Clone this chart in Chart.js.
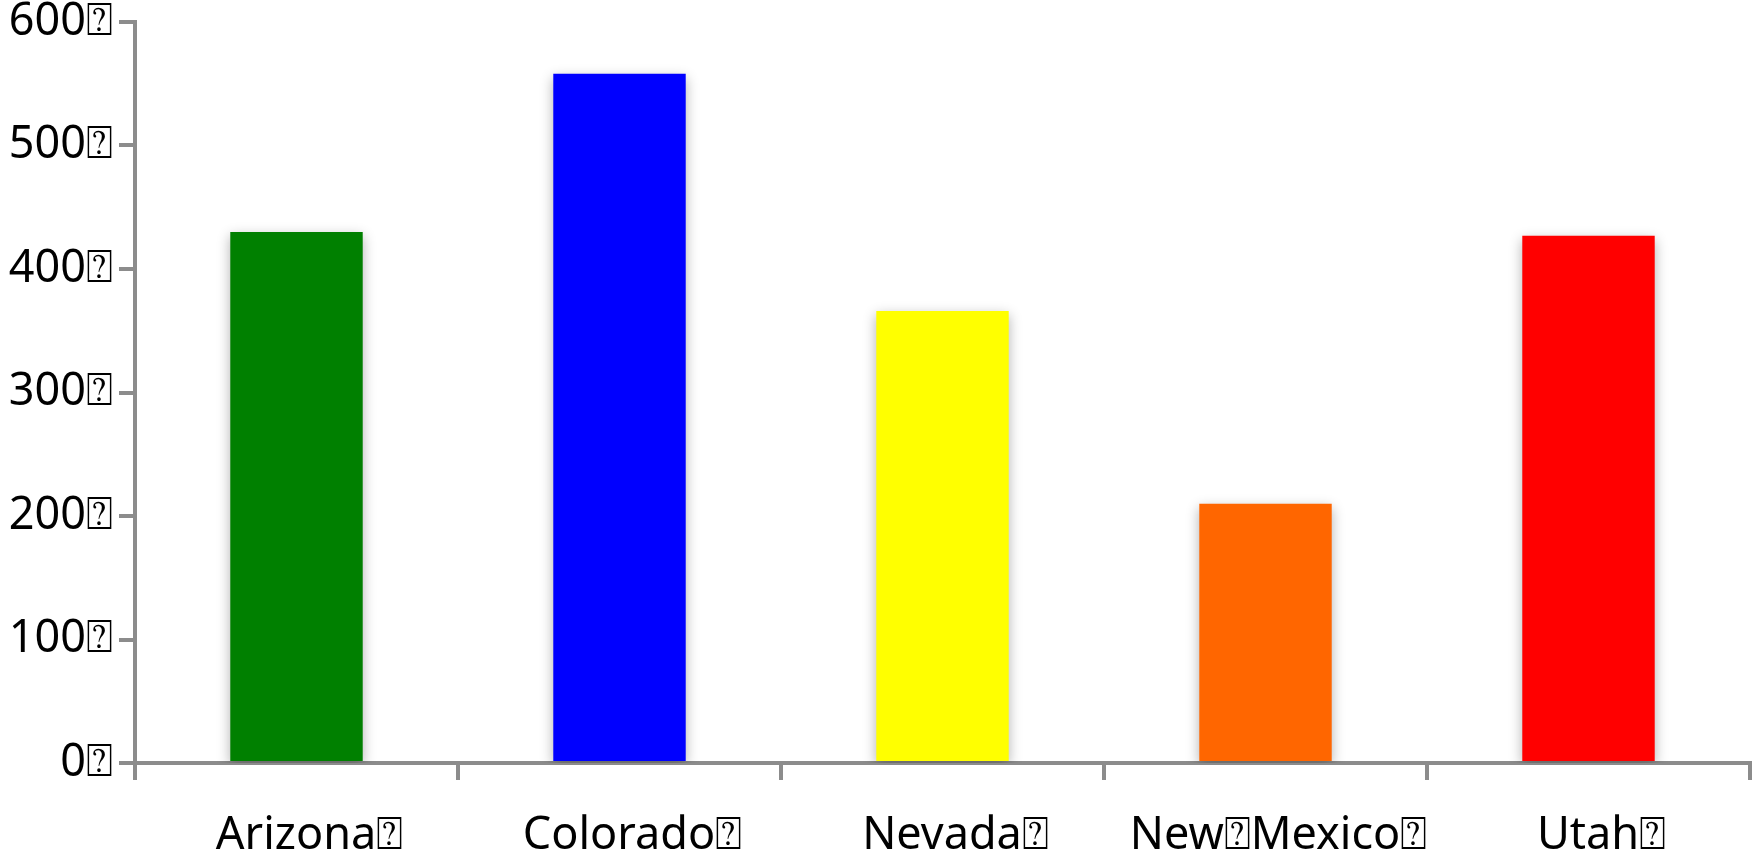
<!DOCTYPE html>
<html>
<head>
<meta charset="utf-8">
<script src="https://cdn.jsdelivr.net/npm/chart.js@4"></script>
<style>
  html, body { margin: 0; padding: 0; background: #fff; }
  #wrap { width: 1760px; height: 854px; }
</style>
</head>
<body>
<div id="wrap"><canvas id="stateChart"></canvas></div>
<script>
var states = ["Arizona\u2370", "Colorado\u2370", "Nevada\u2370", "New\u2370Mexico\u2370", "Utah\u2370"];
var counts = [430, 558, 366, 210, 427];
var barColors = ["#008000", "#0000FF", "#FFFF00", "#FF6600", "#FF0000"];
var yTicks = [0, 100, 200, 300, 400, 500, 600];

var axisGrey = "#8c8c8c";
var labelFont = { family: "'Noto Sans', 'DejaVu Sans'", size: 45, lineHeight: 1 };

// soft drop shadow behind the bars
var barShadow = {
  id: "barShadow",
  beforeDatasetsDraw: function(chart) {
    var ctx = chart.ctx;
    ctx.save();
    ctx.shadowColor = "rgba(0,0,0,0.3)";
    ctx.shadowBlur = 12;
    ctx.shadowOffsetX = 0;
    ctx.shadowOffsetY = 4;
  },
  afterDatasetsDraw: function(chart) {
    chart.ctx.restore();
  }
};

new Chart(document.getElementById("stateChart").getContext("2d"), {
  type: "bar",
  data: {
    labels: states,
    datasets: [{
      data: counts,
      backgroundColor: barColors,
      borderWidth: 0,
      barPercentage: 0.82,
      categoryPercentage: 0.5
    }]
  },
  options: {
    responsive: true,
    maintainAspectRatio: false,
    animation: false,
    layout: { padding: { top: 22, right: 10, bottom: 0, left: 0 } },
    plugins: {
      legend: { display: false },
      tooltip: { enabled: false }
    },
    scales: {
      x: {
        offset: true,
        grid: {
          offset: true,
          drawOnChartArea: false,
          drawTicks: true,
          tickLength: 17,
          color: axisGrey,
          lineWidth: 4
        },
        border: { color: axisGrey, width: 4 },
        ticks: {
          color: "#000",
          padding: 34,
          labelOffset: 13,
          maxRotation: 0,
          font: labelFont
        },
        afterFit: function(s) {
          s.height = 91;
          s.paddingLeft = 0;
          s.paddingRight = 0;
        }
      },
      y: {
        min: 0,
        max: 600,
        afterBuildTicks: function(s) {
          s.ticks = yTicks.map(function(v) { return { value: v }; });
        },
        grid: {
          drawOnChartArea: false,
          drawTicks: true,
          tickLength: 16,
          color: axisGrey,
          lineWidth: 4
        },
        border: { color: axisGrey, width: 4 },
        ticks: {
          color: "#000",
          padding: 6,
          font: labelFont,
          callback: function(v) { return v + "\u2370"; }
        },
        afterFit: function(s) {
          s.width = 135;
          s.paddingTop = 0;
          s.paddingBottom = 0;
        }
      }
    }
  },
  plugins: [barShadow]
});
</script>
</body>
</html>
